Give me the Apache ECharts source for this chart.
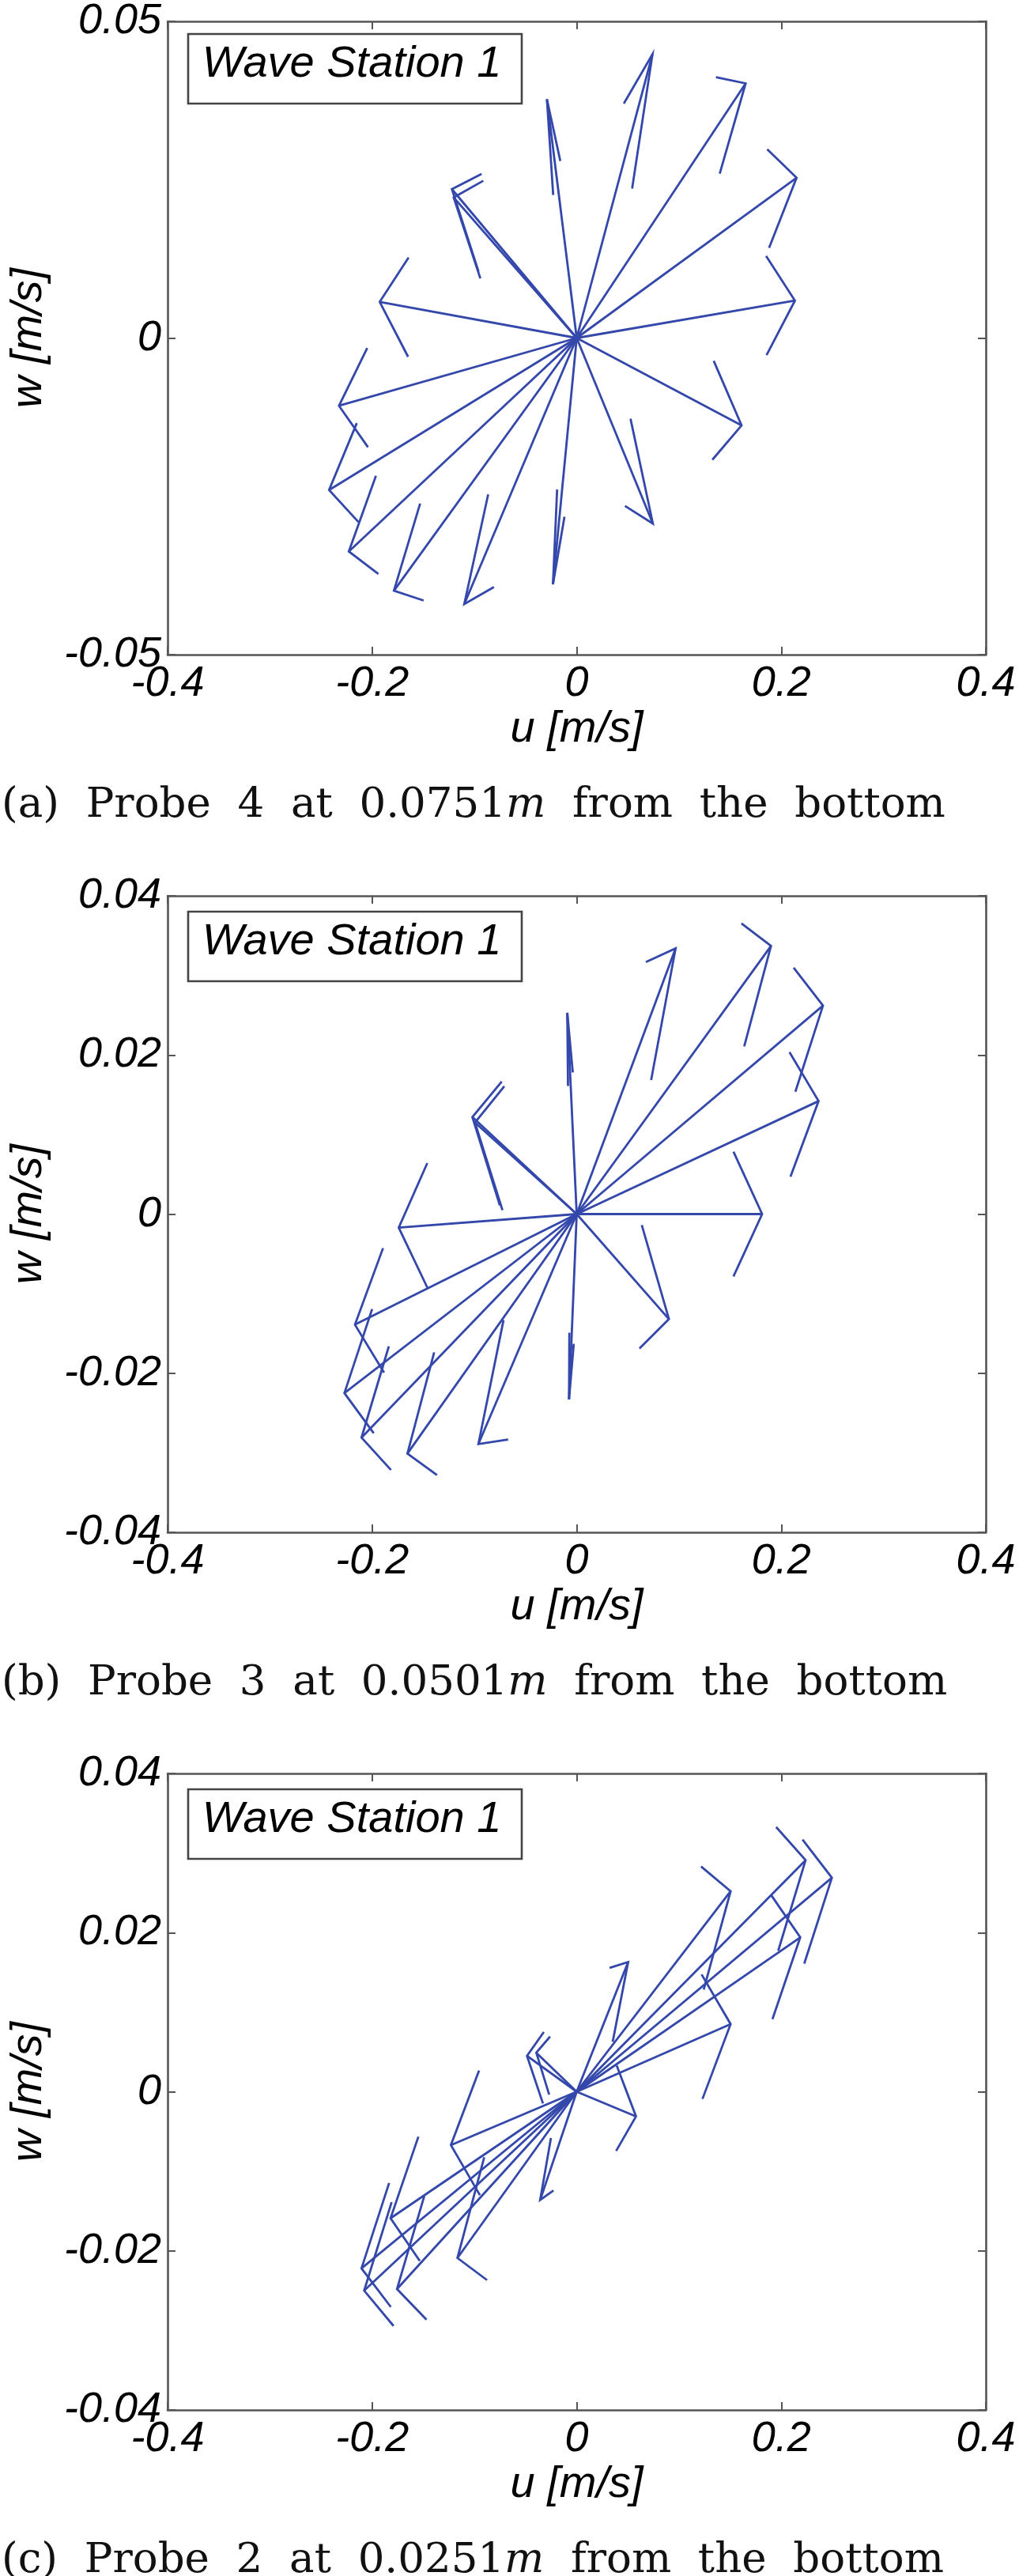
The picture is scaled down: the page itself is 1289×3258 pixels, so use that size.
<!DOCTYPE html>
<html>
<head>
<meta charset="utf-8">
<script src="https://cdn.jsdelivr.net/npm/echarts@6/dist/echarts.min.js"></script>
<style>
html,body{margin:0;padding:0;background:#fff;}
#chart{width:1289px;height:3258px;}
</style>
</head>
<body>
<div id="chart"></div>
<script>
// ---- data (u, w in m/s) ----
const U_A = [-0.0291, 0.0741, 0.1652, 0.2150, 0.2134, 0.1612, 0.0745, -0.0232, -0.1099, -0.1787, -0.2228, -0.2421, -0.2324, -0.1926, -0.1220, -0.1203];
const W_A = [0.0377, 0.0448, 0.0402, 0.0253, 0.0059, -0.0138, -0.0293, -0.0389, -0.0420, -0.0399, -0.0337, -0.0240, -0.0107, 0.0057, 0.0235, 0.0222];

const U_B = [-0.0092, 0.0967, 0.1900, 0.2408, 0.2365, 0.1813, 0.0902, -0.0075, -0.0961, -0.1655, -0.2104, -0.2271, -0.2168, -0.1740, -0.1020, -0.0995];
const W_B = [0.0253, 0.0334, 0.0337, 0.0262, 0.0142, 0.0000, -0.0132, -0.0233, -0.0289, -0.0301, -0.0281, -0.0225, -0.0139, -0.0017, 0.0122, 0.0115];

const U_C = [0.2495, 0.2238, 0.2186, 0.1505, 0.1505, 0.0503, 0.0580, -0.0486, -0.0395, -0.0357, -0.1230, -0.1166, -0.1820, -0.2104, -0.2078, -0.1757];
const W_C = [0.0269, 0.0291, 0.0194, 0.0252, 0.0085, 0.0163, -0.0031, 0.0045, 0.0049, -0.0136, -0.0067, -0.0209, -0.0159, -0.0222, -0.0250, -0.0248];

const X_TICKS = [-0.4, -0.2, 0, 0.2, 0.4];
const Y_TICKS_A = [-0.05, 0, 0.05];
const Y_TICKS_BC = [-0.04, -0.02, 0, 0.02, 0.04];

const LEGEND_TEXT = 'Wave Station 1';
const CAPTIONS = [
  ['(a)', 'Probe', '4', 'at', '0.0751', 'from', 'the', 'bottom'],
  ['(b)', 'Probe', '3', 'at', '0.0501', 'from', 'the', 'bottom'],
  ['(c)', 'Probe', '2', 'at', '0.0251', 'from', 'the', 'bottom']
];

// ---- layout / style ----
const PANEL_TOPS = [23, 1133, 2243];
const GRID_LEFT = 209, GRID_W = 1038, GRID_H = 805;
const ARROW_COLOR = '#3447aa';
const FRAME = '#555555';
const HEAD_RATIO = 0.33, HEAD_MAX = 0.028, HEAD_WIDTH = 0.28;

const panels = [
  {u: U_A, w: W_A, yt: Y_TICKS_A},
  {u: U_B, w: W_B, yt: Y_TICKS_BC},
  {u: U_C, w: W_C, yt: Y_TICKS_BC}
];

const labelFont = {fontSize: 54, fontStyle: 'italic', fontFamily: '"Liberation Sans", Arial, sans-serif', color: '#000'};
const nameFont = {fontSize: 56, fontStyle: 'italic', fontFamily: '"Liberation Sans", Arial, sans-serif', color: '#000'};
const capFamily = '"DejaVu Serif", "Liberation Serif", serif';

function fmt(v) {
  if (Math.abs(v) < 1e-9) return '0';
  return String(parseFloat(v.toFixed(3)));
}

const grids = [], xAxes = [], yAxes = [], series = [], graphics = [];

panels.forEach((p, i) => {
  const T = PANEL_TOPS[i];
  grids.push({left: GRID_LEFT, top: T, width: GRID_W, height: GRID_H, containLabel: false});
  const yMin = p.yt[0], yMax = p.yt[p.yt.length - 1], yInt = p.yt[1] - p.yt[0];
  const common = {
    type: 'value',
    gridIndex: i,
    splitLine: {show: false},
    axisLine: {show: true, onZero: false, lineStyle: {color: FRAME, width: 2.6}},
    axisTick: {show: true, inside: true, length: 10, lineStyle: {color: FRAME, width: 2}}
  };
  xAxes.push(Object.assign({}, common, {
    position: 'bottom', min: X_TICKS[0], max: X_TICKS[X_TICKS.length - 1], interval: X_TICKS[1] - X_TICKS[0],
    axisLabel: Object.assign({show: true, margin: 10, showMinLabel: true, showMaxLabel: true, formatter: fmt}, labelFont),
    name: 'u [m/s]', nameLocation: 'middle', nameGap: 66, nameTextStyle: nameFont
  }));
  xAxes.push(Object.assign({}, common, {
    position: 'top', min: X_TICKS[0], max: X_TICKS[X_TICKS.length - 1], interval: X_TICKS[1] - X_TICKS[0],
    axisLabel: {show: false}
  }));
  yAxes.push(Object.assign({}, common, {
    position: 'left', min: yMin, max: yMax, interval: yInt,
    axisLabel: Object.assign({show: true, margin: 8, showMinLabel: true, showMaxLabel: true, formatter: fmt}, labelFont),
    name: 'w [m/s]', nameLocation: 'middle', nameRotate: 90, nameGap: 148, nameTextStyle: nameFont
  }));
  yAxes.push(Object.assign({}, common, {
    position: 'right', min: yMin, max: yMax, interval: yInt,
    axisLabel: {show: false}
  }));

  series.push({
    type: 'custom',
    xAxisIndex: 2 * i,
    yAxisIndex: 2 * i,
    data: p.u.map((u, k) => [u, p.w[k]]),
    silent: true,
    renderItem: function (params, api) {
      const u = api.value(0), w = api.value(1);
      const len = Math.hypot(u, w);
      const L = Math.min(HEAD_RATIO * len, HEAD_MAX);
      const H = HEAD_WIDTH * L;
      const dx = u / len, dy = w / len;
      const bx = u - L * dx, by = w - L * dy;
      const o = api.coord([0, 0]);
      const t = api.coord([u, w]);
      const b1 = api.coord([bx - H * dy, by + H * dx]);
      const b2 = api.coord([bx + H * dy, by - H * dx]);
      const st = {stroke: ARROW_COLOR, lineWidth: 2.8, fill: null, lineJoin: 'miter'};
      return {
        type: 'group',
        children: [
          {type: 'line', shape: {x1: o[0], y1: o[1], x2: t[0], y2: t[1]}, style: st},
          {type: 'polyline', shape: {points: [b1, t, b2]}, style: st}
        ]
      };
    }
  });

  // legend box
  graphics.push({
    type: 'rect', z: 20,
    shape: {x: 238, y: T + 20, width: 422, height: 88},
    style: {fill: '#fff', stroke: '#444', lineWidth: 2.6}
  });
  graphics.push({
    type: 'text', z: 21,
    style: {
      text: LEGEND_TEXT, x: 445, y: T + 58, align: 'center', verticalAlign: 'middle',
      fontSize: 56, fontStyle: 'italic', fontFamily: '"Liberation Sans", Arial, sans-serif', fill: '#000'
    }
  });

  // caption
  const c = CAPTIONS[i];
  const sp = '  ';
  const txt = c[0] + sp + c[1] + sp + c[2] + sp + c[3] + sp + c[4] + '{i|m}' + sp + c[5] + sp + c[6] + sp + c[7];
  graphics.push({
    type: 'text', z: 21,
    style: {
      text: txt, x: 2, y: T + 996, align: 'left', verticalAlign: 'middle',
      fontSize: 53, fontFamily: capFamily, fill: '#111',
      rich: {i: {fontSize: 53, fontStyle: 'italic', fontFamily: capFamily, fill: '#111'}}
    }
  });
});

const chart = echarts.init(document.getElementById('chart'), null, {renderer: 'canvas'});
chart.setOption({
  animation: false,
  backgroundColor: '#fff',
  grid: grids,
  xAxis: xAxes,
  yAxis: yAxes,
  series: series,
  graphic: graphics
});
</script>
</body>
</html>
